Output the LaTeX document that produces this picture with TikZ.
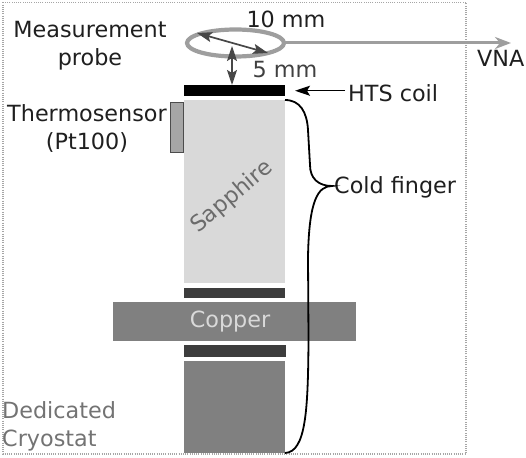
\documentclass[tikz,border=0pt]{standalone}
\usepackage{fontspec}
\setmainfont{DejaVu Sans}
\usetikzlibrary{arrows.meta,positioning,calc,shapes.geometric}
\tikzset{
  block/.style={anchor=north west,inner sep=0pt,outer sep=0pt,draw=none},
  lbl/.style={inner sep=0pt,font=\fontsize{22.3}{28}\selectfont,text=black!88,align=center},
  darrow/.style={draw=black!72,line width=1.7pt,{Stealth[length=15pt,width=10pt,inset=3pt]}-{Stealth[length=15pt,width=10pt,inset=3pt]}},
  thin arrow/.style={draw=black,line width=1.5pt,-{Stealth[length=15pt,width=10pt,inset=3pt]}},
  brace/.style={draw=black,line width=1.8pt},
}
\definecolor{cu}{gray}{0.5}
\definecolor{sa}{gray}{0.85}
\definecolor{dk}{gray}{0.24}
\newcommand{\rbox}[6]{\node[block,fill=#6,minimum width=#4pt,minimum height=#5pt] (#1) at (#2pt,-#3pt) {};}
\begin{document}
\begin{tikzpicture}[x=1pt,y=-1pt]
\useasboundingbox (0,0) rectangle (526,457);
\draw[black!35,line width=1.3pt,dash pattern=on 1pt off 1.2pt] (3,2.5) rectangle (466,454);
% blocks
\rbox{coil}{184}{85}{101}{11.5}{black}
\rbox{sapphire}{184}{100}{101}{183}{sa}
\rbox{barA}{184}{288}{101}{10}{dk}
\rbox{copper}{113}{302}{243}{39}{cu}
\rbox{barB}{183.5}{345}{102}{12}{dk}
\rbox{base}{184}{361}{101}{92}{cu}
\node[block,fill=black!35,draw=black!70,line width=1pt,minimum width=13pt,minimum height=50pt] (sensor) at (170.5pt,-102.5pt) {};
% probe
\node[draw=black!38,line width=4.2pt,ellipse,inner sep=0pt,outer sep=0pt,minimum width=97pt,minimum height=27pt] (probe) at (235.5,43) {};
\coordinate (vna) at (511,43);
\draw[draw=black!38,line width=3pt,-{Stealth[length=16pt,width=12pt,inset=5pt]}] (probe.east) -- (vna);
\coordinate (dL) at (197,33);
\coordinate (dR) at (268,53);
\draw[darrow] (dL) -- (dR);
\coordinate (vT) at (232,46);
\draw[darrow] (vT) -- (vT |- coil.north);
% labels
\node[lbl] (meas) at (90,45.2) {Measurement\\probe};
\node[lbl,anchor=base] (ten) at (286,28) {10 mm};
\node[lbl,anchor=base,text=black!75] (five) at (285,78) {5 mm};
\node[lbl,anchor=base west] (hts) at (348,102) {HTS coil};
\node[lbl,anchor=base west] (vnal) at (477,67) {VNA};
\node[lbl] (thermo) at (87,128.5) {Thermosensor\\(Pt100)};
\node[lbl,anchor=base west] (cold) at (334,193) {Cold finger};
\node[lbl,text=black!58,rotate=40] (sapl) at (232,197) {Sapphire};
\node[lbl,text=black!15,anchor=base] (copl) at (230,327) {Copper};
\node[lbl,anchor=west,text=black!55,align=left] (cryo) at (2,426.3) {Dedicated\\Cryostat};
\coordinate (tip) at (332,186);
% connectors
\draw[thin arrow,shorten >=10pt,shorten <=3pt] (hts.west |- coil.east) -- (coil.east);
\draw[brace] (sapphire.north east) .. controls (300,100) and (307,112) .. (308,130)
  -- (310,165) .. controls (310,178) and (318,186) .. (tip)
  .. controls (318,186) and (309,200) .. (308,257)
  -- (308.5,340) .. controls (308,410) and (306,452) .. (base.south east);
\end{tikzpicture}
\end{document}
